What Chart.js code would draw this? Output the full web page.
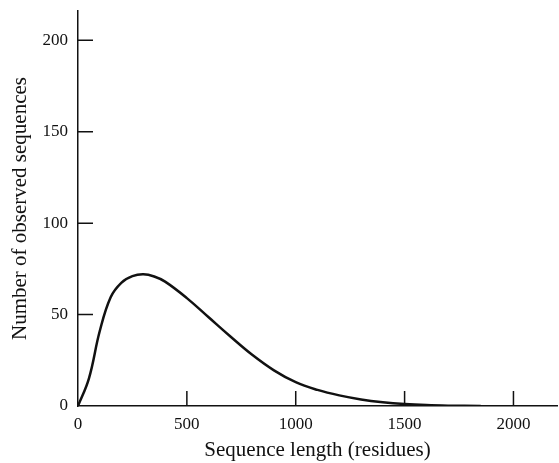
<!DOCTYPE html>
<html>
<head>
<meta charset="utf-8">
<script src="https://cdn.jsdelivr.net/npm/chart.js@4"></script>
<style>
  body { margin: 0; background: #fff; }
  canvas { display: block; }
</style>
</head>
<body>
<canvas id="lenChart" width="559" height="463"></canvas>
<script>
// sequence length distribution
const lengths = [0, 50, 100, 150, 200, 250, 300, 350, 400, 500, 600, 700, 800, 900, 1000, 1100, 1200, 1300, 1400, 1500, 1600, 1700, 1850];
const counts  = [0, 15, 41, 59.5, 67.5, 71, 72, 70.8, 68, 59, 48.5, 38, 28, 19.5, 13, 8.8, 5.8, 3.6, 2.1, 1.1, 0.5, 0.2, 0];
const xTicks = [0, 500, 1000, 1500, 2000];
const yTicks = [0, 50, 100, 150, 200];

const serif = 'Liberation Serif, Times New Roman, serif';
const ink = '#111';

// tick marks point into the plot, like the printed figure
const inwardTicks = {
  id: 'inwardTicks',
  afterDraw(chart) {
    const ctx = chart.ctx;
    const xs = chart.scales.x, ys = chart.scales.y;
    const len = 15;
    ctx.save();
    ctx.strokeStyle = ink;
    ctx.lineWidth = 1.5;
    ctx.beginPath();
    xTicks.forEach(v => {
      if (v === 0) return;
      const px = xs.getPixelForValue(v);
      ctx.moveTo(px, ys.bottom);
      ctx.lineTo(px, ys.bottom - len);
    });
    yTicks.forEach(v => {
      if (v === 0) return;
      const py = ys.getPixelForValue(v);
      ctx.moveTo(xs.left, py);
      ctx.lineTo(xs.left + len, py);
    });
    ctx.stroke();
    ctx.restore();
  }
};

new Chart(document.getElementById('lenChart'), {
  type: 'line',
  data: {
    datasets: [{
      data: lengths.map((x, i) => ({ x: x, y: counts[i] })),
      borderColor: ink,
      borderWidth: 2.5,
      pointRadius: 0,
      fill: false,
      tension: 0.4
    }]
  },
  options: {
    responsive: false,
    animation: false,
    layout: { padding: { top: 11, right: 2, left: 0, bottom: 0 } },
    plugins: { legend: { display: false }, tooltip: { enabled: false } },
    scales: {
      x: {
        type: 'linear',
        min: 0,
        max: 2200,
        afterFit: s => { s.height = 57; s.paddingRight = 0; },
        afterBuildTicks: s => { s.ticks = xTicks.map(v => ({ value: v })); },
        grid: { drawOnChartArea: false, drawTicks: false },
        border: { color: ink, width: 1.5 },
        ticks: {
          color: ink, padding: 8, maxRotation: 0,
          font: { family: serif, size: 17 },
          callback: v => String(v)
        },
        title: {
          display: true,
          text: 'Sequence length (residues)',
          color: ink,
          font: { family: serif, size: 21 },
          padding: { top: 0, bottom: 0 }
        }
      },
      y: {
        min: 0,
        max: 216,
        afterFit: s => { s.width = 78; s.paddingTop = 0; },
        afterBuildTicks: s => { s.ticks = yTicks.map(v => ({ value: v })); },
        grid: { drawOnChartArea: false, drawTicks: false },
        border: { color: ink, width: 1.5 },
        ticks: {
          color: ink, padding: 10,
          font: { family: serif, size: 17 },
          callback: v => String(v)
        },
        title: {
          display: true,
          text: 'Number of observed sequences',
          color: ink,
          font: { family: serif, size: 21 },
          padding: { top: 8, bottom: 0 }
        }
      }
    }
  },
  plugins: [inwardTicks]
});
</script>
</body>
</html>
